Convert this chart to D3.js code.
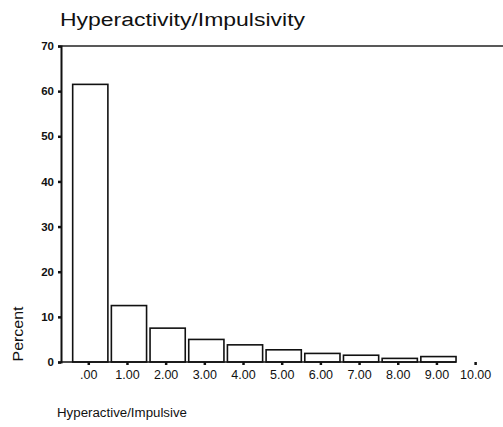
<!DOCTYPE html>
<html><head><meta charset="utf-8">
<script src="https://cdn.jsdelivr.net/npm/d3@7"></script>
<style>body{margin:0;background:#fff}svg{display:block}text{font-family:Arial,"Liberation Sans",sans-serif;fill:#111}</style>
</head><body>
<script>
const categories = [".00","1.00","2.00","3.00","4.00","5.00","6.00","7.00","8.00","9.00","10.00"];
const percents = [61.5, 12.5, 7.5, 5.0, 3.8, 2.7, 1.9, 1.5, 0.8, 1.2, 0];
const yTicks = [0,10,20,30,40,50,60,70];
const title = "Hyperactivity/Impulsivity";
const xTitle = "Hyperactive/Impulsive";
const yTitle = "Percent";

const W = 503, H = 427;
const svg = d3.select("body").append("svg").attr("width", W).attr("height", H);
const x = d3.scaleBand().domain(categories).range([69.2, 498.2]).padding(0.09);
const y = d3.scaleLinear().domain([0,70]).range([362,46]);
const axX = 61;

svg.append("text").attr("x",60).attr("y",26).attr("font-size",18)
  .attr("textLength",245).attr("lengthAdjust","spacingAndGlyphs").text(title);

// bars
svg.selectAll("rect.bar").data(categories.map((c,i)=>({c,v:percents[i]})).filter(d=>d.v>0))
  .enter().append("rect").attr("class","bar")
  .attr("x",d=>x(d.c)).attr("width",x.bandwidth())
  .attr("y",d=>y(d.v)).attr("height",d=>y(0)-y(d.v))
  .attr("fill","#fff").attr("stroke","#111").attr("stroke-width",1.6);

// baseline under bars
svg.append("line").attr("x1",axX).attr("x2",x("9.00")+x.bandwidth()).attr("y1",y(0)).attr("y2",y(0))
  .attr("stroke","#111").attr("stroke-width",1.6);

// top frame line
svg.append("line").attr("x1",axX).attr("x2",W).attr("y1",y(70)).attr("y2",y(70)).attr("stroke","#222").attr("stroke-width",1.6);

// y axis
const ya = svg.append("g").attr("transform",`translate(${axX},0)`)
  .call(d3.axisLeft(y).tickValues(yTicks).tickSize(3).tickPadding(4).tickFormat(d3.format("d")));
ya.select(".domain").attr("stroke","#111").attr("stroke-width",2);
ya.selectAll(".tick line").attr("stroke","#111").attr("stroke-width",2.5);
ya.selectAll("text").attr("font-size",11.5).attr("font-weight","bold").style("font-family","Arial,'Liberation Sans',sans-serif").attr("fill","#111");

// x axis ticks
const xa = svg.append("g").attr("transform",`translate(-1.5,${y(0)})`)
  .call(d3.axisBottom(x).tickSize(3).tickPadding(5));
xa.select(".domain").remove();
xa.selectAll(".tick line").attr("stroke","#111").attr("stroke-width",2.5);
xa.selectAll("text").attr("font-size",12.5).style("font-family","Arial,'Liberation Sans',sans-serif").attr("fill","#111");

svg.append("text").attr("transform","translate(22.5,334) rotate(-90)").attr("text-anchor","middle").attr("font-size",15)
  .attr("textLength",55).attr("lengthAdjust","spacingAndGlyphs").text(yTitle);
svg.append("text").attr("x",57).attr("y",417).attr("font-size",12)
  .attr("textLength",130).attr("lengthAdjust","spacingAndGlyphs").text(xTitle);
</script>
</body></html>
